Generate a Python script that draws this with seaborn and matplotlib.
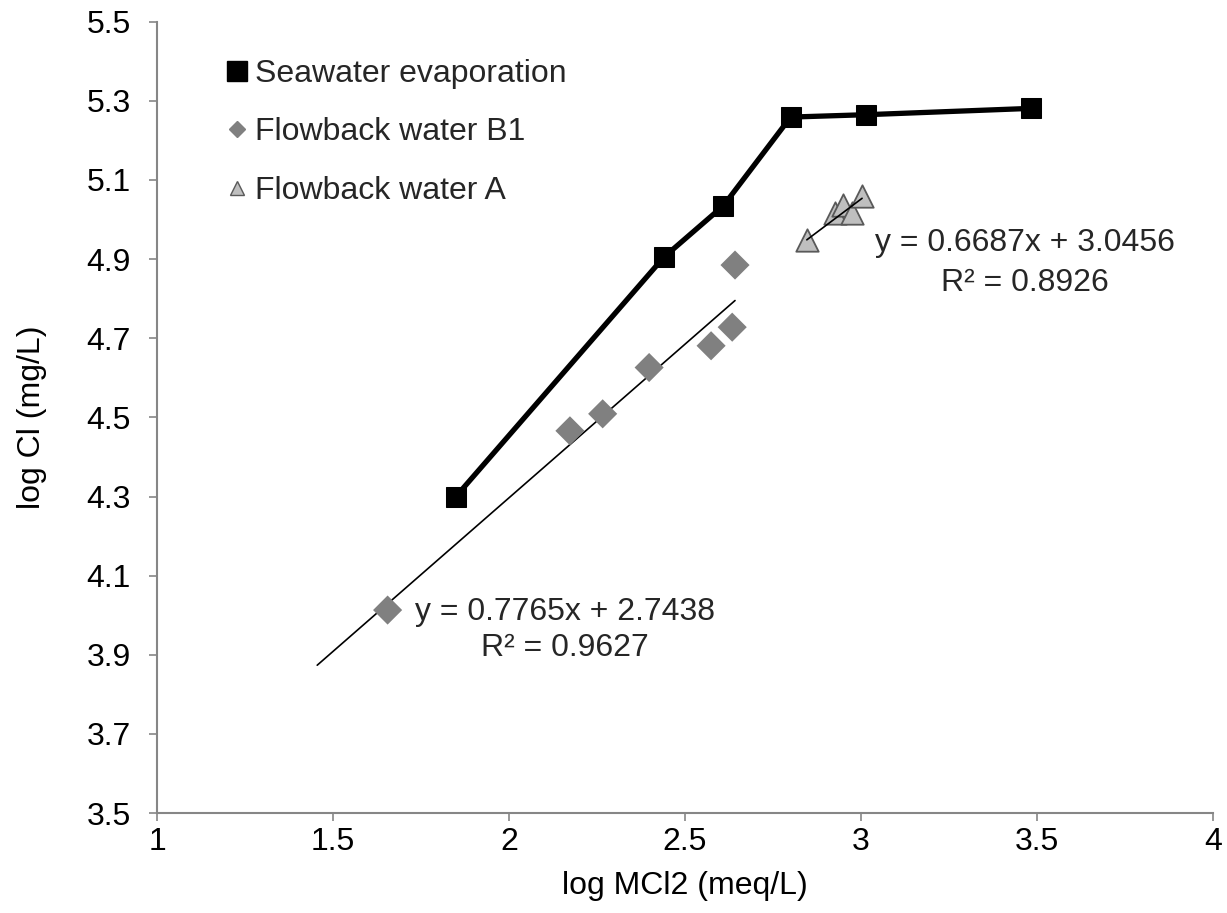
import matplotlib
matplotlib.use("Agg")
import matplotlib.pyplot as plt
from matplotlib.lines import Line2D
import seaborn as sns
import numpy as np
import pandas as pd

# ---- data ----
sea_x = [1.849, 2.44, 2.609, 2.80, 3.014, 3.483]
sea_y = [4.30, 4.905, 5.035, 5.259, 5.265, 5.281]

b1_x = [1.655, 2.173, 2.266, 2.398, 2.574, 2.634, 2.642]
b1_y = [4.013, 4.466, 4.509, 4.626, 4.681, 4.728, 4.885]

a_x = [2.846, 2.926, 2.949, 2.974, 3.003]
a_y = [4.948, 5.017, 5.037, 5.017, 5.060]

b1_slope, b1_intercept, b1_r2 = 0.7765, 2.7438, 0.9627
a_slope, a_intercept, a_r2 = 0.6687, 3.0456, 0.8926
b1_backcast = 0.2

labels = ["Seawater evaporation", "Flowback water B1", "Flowback water A"]
x_ticks = [1, 1.5, 2, 2.5, 3, 3.5, 4]
y_ticks = [3.5, 3.7, 3.9, 4.1, 4.3, 4.5, 4.7, 4.9, 5.1, 5.3, 5.5]

FS = 23

sns.set_theme(style="white")
plt.rcParams['font.family'] = ['Liberation Sans', 'DejaVu Sans']

fig = plt.figure(figsize=(12.27, 9.13), dpi=100)
ax = fig.add_axes([0.128, 0.1095, 0.8606, 0.8667])

sea = pd.DataFrame({"x": sea_x, "y": sea_y})
b1 = pd.DataFrame({"x": b1_x, "y": b1_y})
fa = pd.DataFrame({"x": a_x, "y": a_y})

# trendlines
xb = np.array([min(b1_x) - b1_backcast, max(b1_x)])
ax.plot(xb, b1_slope * xb + b1_intercept, color="black", lw=1.2, zorder=2)
xa = np.array([min(a_x), max(a_x)])

sns.lineplot(data=sea, x="x", y="y", ax=ax, color="black", lw=3.8,
             marker="s", markersize=14, markeredgecolor="black",
             markerfacecolor="black", zorder=3, sort=False)
sns.scatterplot(data=b1, x="x", y="y", ax=ax, marker="D", s=220,
                color="#808080", edgecolor="none", zorder=3)
sns.scatterplot(data=fa, x="x", y="y", ax=ax, marker="^", s=260,
                color="#bfbfbf", edgecolor="#595959", linewidth=1.3, zorder=3)
ax.plot(xa, a_slope * xa + a_intercept, color="black", lw=1.2, zorder=4)

ax.set_xlim(1, 4)
ax.set_ylim(3.5, 5.5)
ax.set_xticks(x_ticks)
ax.set_xticklabels([f"{v:g}" for v in x_ticks])
ax.set_yticks(y_ticks)
ax.set_yticklabels([f"{v:.1f}" for v in y_ticks])
ax.tick_params(axis="both", labelsize=FS, colors="black", length=6,
               width=1.2, direction="out", color="#868686")
ax.tick_params(axis="x", bottom=True, pad=4)
ax.tick_params(axis="y", left=True, pad=13)
for s in ["top", "right"]:
    ax.spines[s].set_visible(False)
for s in ["left", "bottom"]:
    ax.spines[s].set_color("#868686")
    ax.spines[s].set_linewidth(1.5)
ax.grid(False)

ax.set_xlabel("log MCl2 (meq/L)", fontsize=FS, color="black", labelpad=10)
ax.set_ylabel("log Cl (mg/L)", fontsize=FS, color="black", labelpad=28)

# equations
ax.text(2.159, 4.008, f"y = {b1_slope}x + {b1_intercept}", fontsize=FS, ha="center", va="center")
ax.text(2.159, 3.917, f"R² = {b1_r2}", fontsize=FS, ha="center", va="center")
ax.text(3.466, 4.94, f"y = {a_slope}x + {a_intercept}", fontsize=FS, ha="center", va="center")
ax.text(3.466, 4.84, f"R² = {a_r2}", fontsize=FS, ha="center", va="center")

handles = [
    Line2D([], [], ls="none", marker="s", markersize=14, color="black"),
    Line2D([], [], ls="none", marker="D", markersize=8, color="#808080"),
    Line2D([], [], ls="none", marker="^", markersize=10, markerfacecolor="#bfbfbf",
           markeredgecolor="#595959"),
]
ax.legend(handles, labels, loc="upper left", bbox_to_anchor=(0.067, 0.953),
          frameon=False, fontsize=FS, handlelength=0.6, handletextpad=0.25,
          labelspacing=0.89, borderaxespad=0, borderpad=0)

fig.savefig("out.png", dpi=100)
